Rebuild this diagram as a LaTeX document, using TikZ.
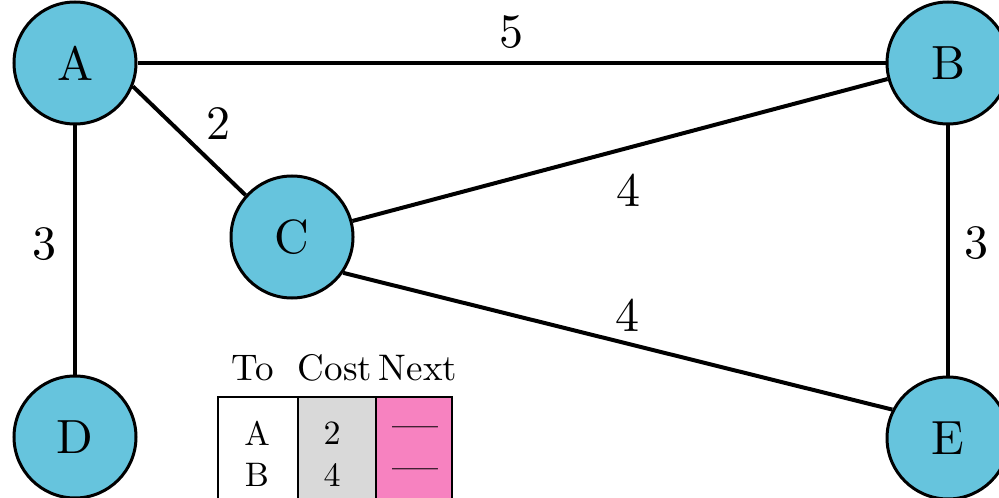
\documentclass[tikz,border=0pt]{standalone}
\usepackage{fontspec}
\setmainfont{lmroman10-regular}[Extension=.otf]
\usepackage{tikz}
\usetikzlibrary{positioning}
\definecolor{nodecyan}{RGB}{102,196,221}
\definecolor{costgray}{RGB}{217,217,217}
\definecolor{nextpink}{RGB}{247,130,192}

\begin{document}
\begin{tikzpicture}[x=0.5pt, y=-0.5pt,
  vertex/.style={circle, draw, line width=1.5pt, fill=nodecyan,
    minimum size=61pt, inner sep=0pt, font=\fontsize{24}{28}\selectfont},
  edge/.style={line width=2pt},
  wlabel/.style={font=\fontsize{24}{28}\selectfont},
  cell/.style={draw, line width=1pt},
  headtext/.style={font=\fontsize{18.5}{22}\selectfont},
  celltext/.style={font=\fontsize{17}{21}\selectfont},
  dashtext/.style={font=\fontsize{23}{27}\selectfont}]

  \useasboundingbox (0,0) rectangle (999,497);
  \clip (0,0) rectangle (999,497);

  % 路由节点
  \node[vertex] (A) at (75,63) {A};
  \node[vertex] (B) at (948,63) {B};
  \node[vertex] (C) at (292,237) {C};
  \node[vertex] (D) at (75,437) {D};
  \node[vertex] (E) at (948,438) {E};

  % 链路及代价
  \draw[edge] (A) -- (B) node[wlabel, midway, above=3pt] {5};
  \draw[edge] (A.-22) -- (C.138) node[wlabel, midway, xshift=14.5pt, yshift=8.5pt] {2};
  \draw[edge] (A) -- (D) node[wlabel, midway, left=5pt, yshift=3pt] {3};
  \draw[edge] (C) -- (B) node[wlabel, midway, below=7.5pt, xshift=4pt] {4};
  \draw[edge] (C.-35) -- (E.153) node[wlabel, midway, above=0.5pt, xshift=5pt] {4};
  \draw[edge] (B) -- (E) node[wlabel, midway, right=4pt, yshift=3.5pt] {3};

  % C 的路由表
  \node[headtext] (to) at (253,368) {To};
  \node[headtext] (cost) at (335,368) {Cost};
  \node[headtext] (next) at (418,368) {Next};
  \draw[cell, fill=white] (218,397) rectangle (298,560);
  \draw[cell, fill=costgray] (298,397) rectangle (376,560);
  \draw[cell, fill=nextpink] (376,397) rectangle (452,560);
  \node[celltext] (toA) at (257,433) {A};
  \node[celltext] (costA) at (332,433) {2};
  \node[dashtext] (nextA) at (415,433) {---};
  \node[celltext] (toB) at (257,475) {B};
  \node[celltext] (costB) at (332,475) {4};
  \node[dashtext] (nextB) at (415,475) {---};
\end{tikzpicture}
\end{document}
